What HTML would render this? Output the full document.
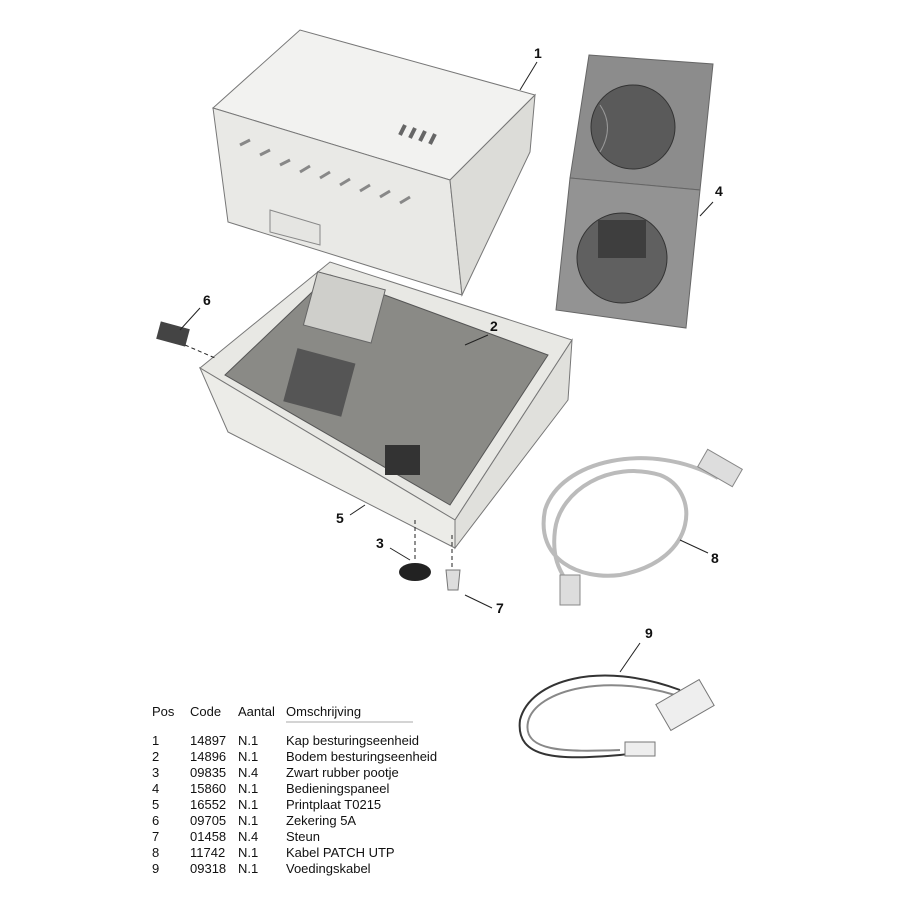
<!DOCTYPE html>
<html><head><style>
body{margin:0;background:#fff;width:900px;height:900px;overflow:hidden;position:relative;font-family:"Liberation Sans",Arial,sans-serif}
.t{position:absolute;font-size:13px;color:#111;white-space:pre;line-height:16px}
.n{position:absolute;font-size:14px;font-weight:bold;color:#111}
</style></head><body>
<svg width="900" height="900" style="position:absolute;left:0;top:0">
<!-- cover -->
<polygon points="213,108 300,30 535,95 450,180" fill="#f2f2f0" stroke="#777"/>
<polygon points="213,108 450,180 462,295 228,222" fill="#e9e9e6" stroke="#777"/>
<polygon points="450,180 535,95 530,152 462,295" fill="#dcdcd8" stroke="#777"/>
<polygon points="270,210 320,225 320,245 270,232" fill="#e5e5e2" stroke="#888"/>
<g stroke="#666" stroke-width="4">
<line x1="400" y1="135" x2="405" y2="125"/><line x1="410" y1="138" x2="415" y2="128"/><line x1="420" y1="141" x2="425" y2="131"/><line x1="430" y1="144" x2="435" y2="134"/>
</g>
<g stroke="#888" stroke-width="3">
<line x1="240" y1="145" x2="250" y2="140"/><line x1="260" y1="155" x2="270" y2="150"/><line x1="280" y1="165" x2="290" y2="160"/><line x1="300" y1="172" x2="310" y2="166"/><line x1="320" y1="178" x2="330" y2="172"/><line x1="340" y1="185" x2="350" y2="179"/><line x1="360" y1="191" x2="370" y2="185"/><line x1="380" y1="197" x2="390" y2="191"/><line x1="400" y1="203" x2="410" y2="197"/>
</g>
<!-- base -->
<polygon points="200,368 330,262 572,340 455,520" fill="#e8e8e4" stroke="#777"/>
<polygon points="225,375 330,275 548,355 450,505" fill="#8a8a86" stroke="#555"/>
<polygon points="200,368 455,520 455,548 228,432" fill="#ecece8" stroke="#777"/>
<polygon points="455,520 572,340 568,400 455,548" fill="#e0e0dc" stroke="#777"/>
<rect x="290" y="355" width="60" height="55" fill="#555" transform="rotate(15 320 380)"/>
<rect x="385" y="445" width="35" height="30" fill="#333"/>
<rect x="310" y="280" width="70" height="55" fill="#cfcfcb" stroke="#666" transform="rotate(15 345 305)"/>
<!-- control panel -->
<polygon points="589,55 713,64 700,190 570,178" fill="#8c8c8c" stroke="#666"/>
<polygon points="570,178 700,190 686,328 556,310" fill="#939393" stroke="#666"/>
<circle cx="633" cy="127" r="42" fill="#5a5a5a" stroke="#333"/>
<path d="M600,105 Q615,127 600,152" fill="none" stroke="#999"/>
<circle cx="622" cy="258" r="45" fill="#606060" stroke="#333"/>
<rect x="598" y="220" width="48" height="38" fill="#3e3e3e"/>
<!-- fuse -->
<rect x="158" y="325" width="30" height="18" fill="#444" transform="rotate(15 173 334)"/>
<!-- foot -->
<ellipse cx="415" cy="572" rx="16" ry="9" fill="#222"/>
<polygon points="446,570 460,570 458,590 448,590" fill="#ddd" stroke="#777"/>
<!-- patch cable -->
<g fill="none" stroke="#bbb" stroke-width="4">
<path d="M718,478 C650,440 560,460 545,510 C535,560 580,580 620,575 C700,560 700,490 660,475 C610,460 560,490 555,530 C550,570 570,580 573,595"/>
</g>
<rect x="700" y="458" width="40" height="20" fill="#ddd" stroke="#888" transform="rotate(30 720 468)"/>
<rect x="560" y="575" width="20" height="30" fill="#ddd" stroke="#888"/>
<!-- power cable -->
<g fill="none" stroke-width="2">
<path d="M680,690 C600,660 530,680 520,720 C515,760 560,760 620,755 C650,752 640,745 650,750" stroke="#333"/>
<path d="M690,700 C610,670 535,690 528,722 C522,752 565,752 620,750" stroke="#888"/>
</g>
<rect x="660" y="690" width="50" height="30" fill="#eee" stroke="#777" transform="rotate(-30 685 705)"/>
<rect x="625" y="742" width="30" height="14" fill="#eee" stroke="#777"/>
<!-- leaders -->
<g stroke="#222" stroke-width="1" fill="none">
<line x1="537" y1="62" x2="520" y2="90"/>
<line x1="700" y1="216" x2="713" y2="202"/>
<line x1="488" y1="335" x2="465" y2="345"/>
<line x1="200" y1="308" x2="180" y2="330"/>
<line x1="185" y1="345" x2="215" y2="358" stroke-dasharray="4,3"/>
<line x1="350" y1="515" x2="365" y2="505"/>
<line x1="390" y1="548" x2="410" y2="560"/>
<line x1="415" y1="520" x2="415" y2="562" stroke-dasharray="4,3"/>
<line x1="452" y1="535" x2="452" y2="568" stroke-dasharray="4,3"/>
<line x1="492" y1="608" x2="465" y2="595"/>
<line x1="708" y1="553" x2="680" y2="540"/>
<line x1="640" y1="643" x2="620" y2="672"/>
<line x1="286" y1="722" x2="413" y2="722" stroke="#aaa"/>
</g>
</svg>
<div class="n" style="left:534px;top:45px">1</div>
<div class="n" style="left:490px;top:318px">2</div>
<div class="n" style="left:376px;top:535px">3</div>
<div class="n" style="left:715px;top:183px">4</div>
<div class="n" style="left:336px;top:510px">5</div>
<div class="n" style="left:203px;top:292px">6</div>
<div class="n" style="left:496px;top:600px">7</div>
<div class="n" style="left:711px;top:550px">8</div>
<div class="n" style="left:645px;top:625px">9</div>
<div class="t" style="left:152px;top:704px">Pos</div>
<div class="t" style="left:190px;top:704px">Code</div>
<div class="t" style="left:238px;top:704px">Aantal</div>
<div class="t" style="left:286px;top:704px">Omschrijving</div>
<div class="t" style="left:152px;top:733px">1
2
3
4
5
6
7
8
9</div>
<div class="t" style="left:190px;top:733px">14897
14896
09835
15860
16552
09705
01458
11742
09318</div>
<div class="t" style="left:238px;top:733px">N.1
N.1
N.4
N.1
N.1
N.1
N.4
N.1
N.1</div>
<div class="t" style="left:286px;top:733px">Kap besturingseenheid
Bodem besturingseenheid
Zwart rubber pootje
Bedieningspaneel
Printplaat T0215
Zekering 5A
Steun
Kabel PATCH UTP
Voedingskabel</div>
</body></html>
